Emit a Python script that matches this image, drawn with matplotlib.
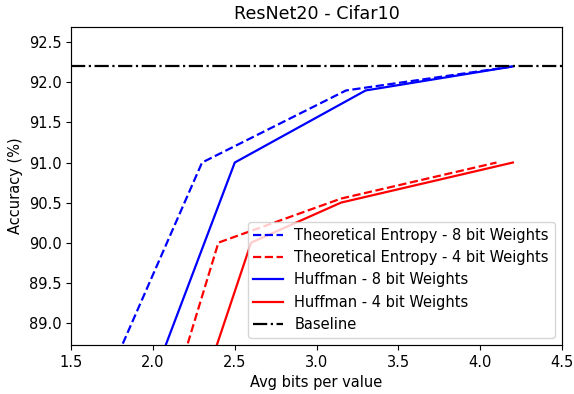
import matplotlib
matplotlib.use("Agg")
import matplotlib.pyplot as plt

# bits per value / accuracy (%)
te8_bits = [1.7, 2.3, 3.18, 4.2]
te8_acc = [88.2, 91.0, 91.9, 92.2]
te4_bits = [2.15, 2.4, 3.15, 4.1]
te4_acc = [88.32, 90.0, 90.55, 91.0]
huf8_bits = [2.0, 2.5, 3.3, 4.2]
huf8_acc = [88.3, 91.0, 91.9, 92.2]
huf4_bits = [2.3, 2.6, 3.15, 4.2]
huf4_acc = [88.17, 90.0, 90.5, 91.0]
baseline = 92.2

# reference looks rendered ~5% larger than default
plt.rcParams['font.size'] = 10.5
plt.rcParams['lines.linewidth'] = 1.6
plt.rcParams['axes.linewidth'] = 0.85

fig = plt.figure(figsize=(5.74, 3.94), dpi=100)
ax = fig.add_axes([0.124, 0.124, 0.855, 0.807])

ax.plot(te8_bits, te8_acc, 'b--', label='Theoretical Entropy - 8 bit Weights')
ax.plot(te4_bits, te4_acc, 'r--', label='Theoretical Entropy - 4 bit Weights')
ax.plot(huf8_bits, huf8_acc, 'b-', label='Huffman - 8 bit Weights')
ax.plot(huf4_bits, huf4_acc, 'r-', label='Huffman - 4 bit Weights')
ax.axhline(baseline, color='k', linestyle='-.', label='Baseline')

ax.set_xlim(1.5, 4.5)
ax.set_ylim(88.72, 92.69)
ax.set_xlabel('Avg bits per value')
ax.set_ylabel('Accuracy (%)')
ax.set_title('ResNet20 - Cifar10')
ax.legend(loc='lower right')

fig.savefig('out.png', dpi=100)
